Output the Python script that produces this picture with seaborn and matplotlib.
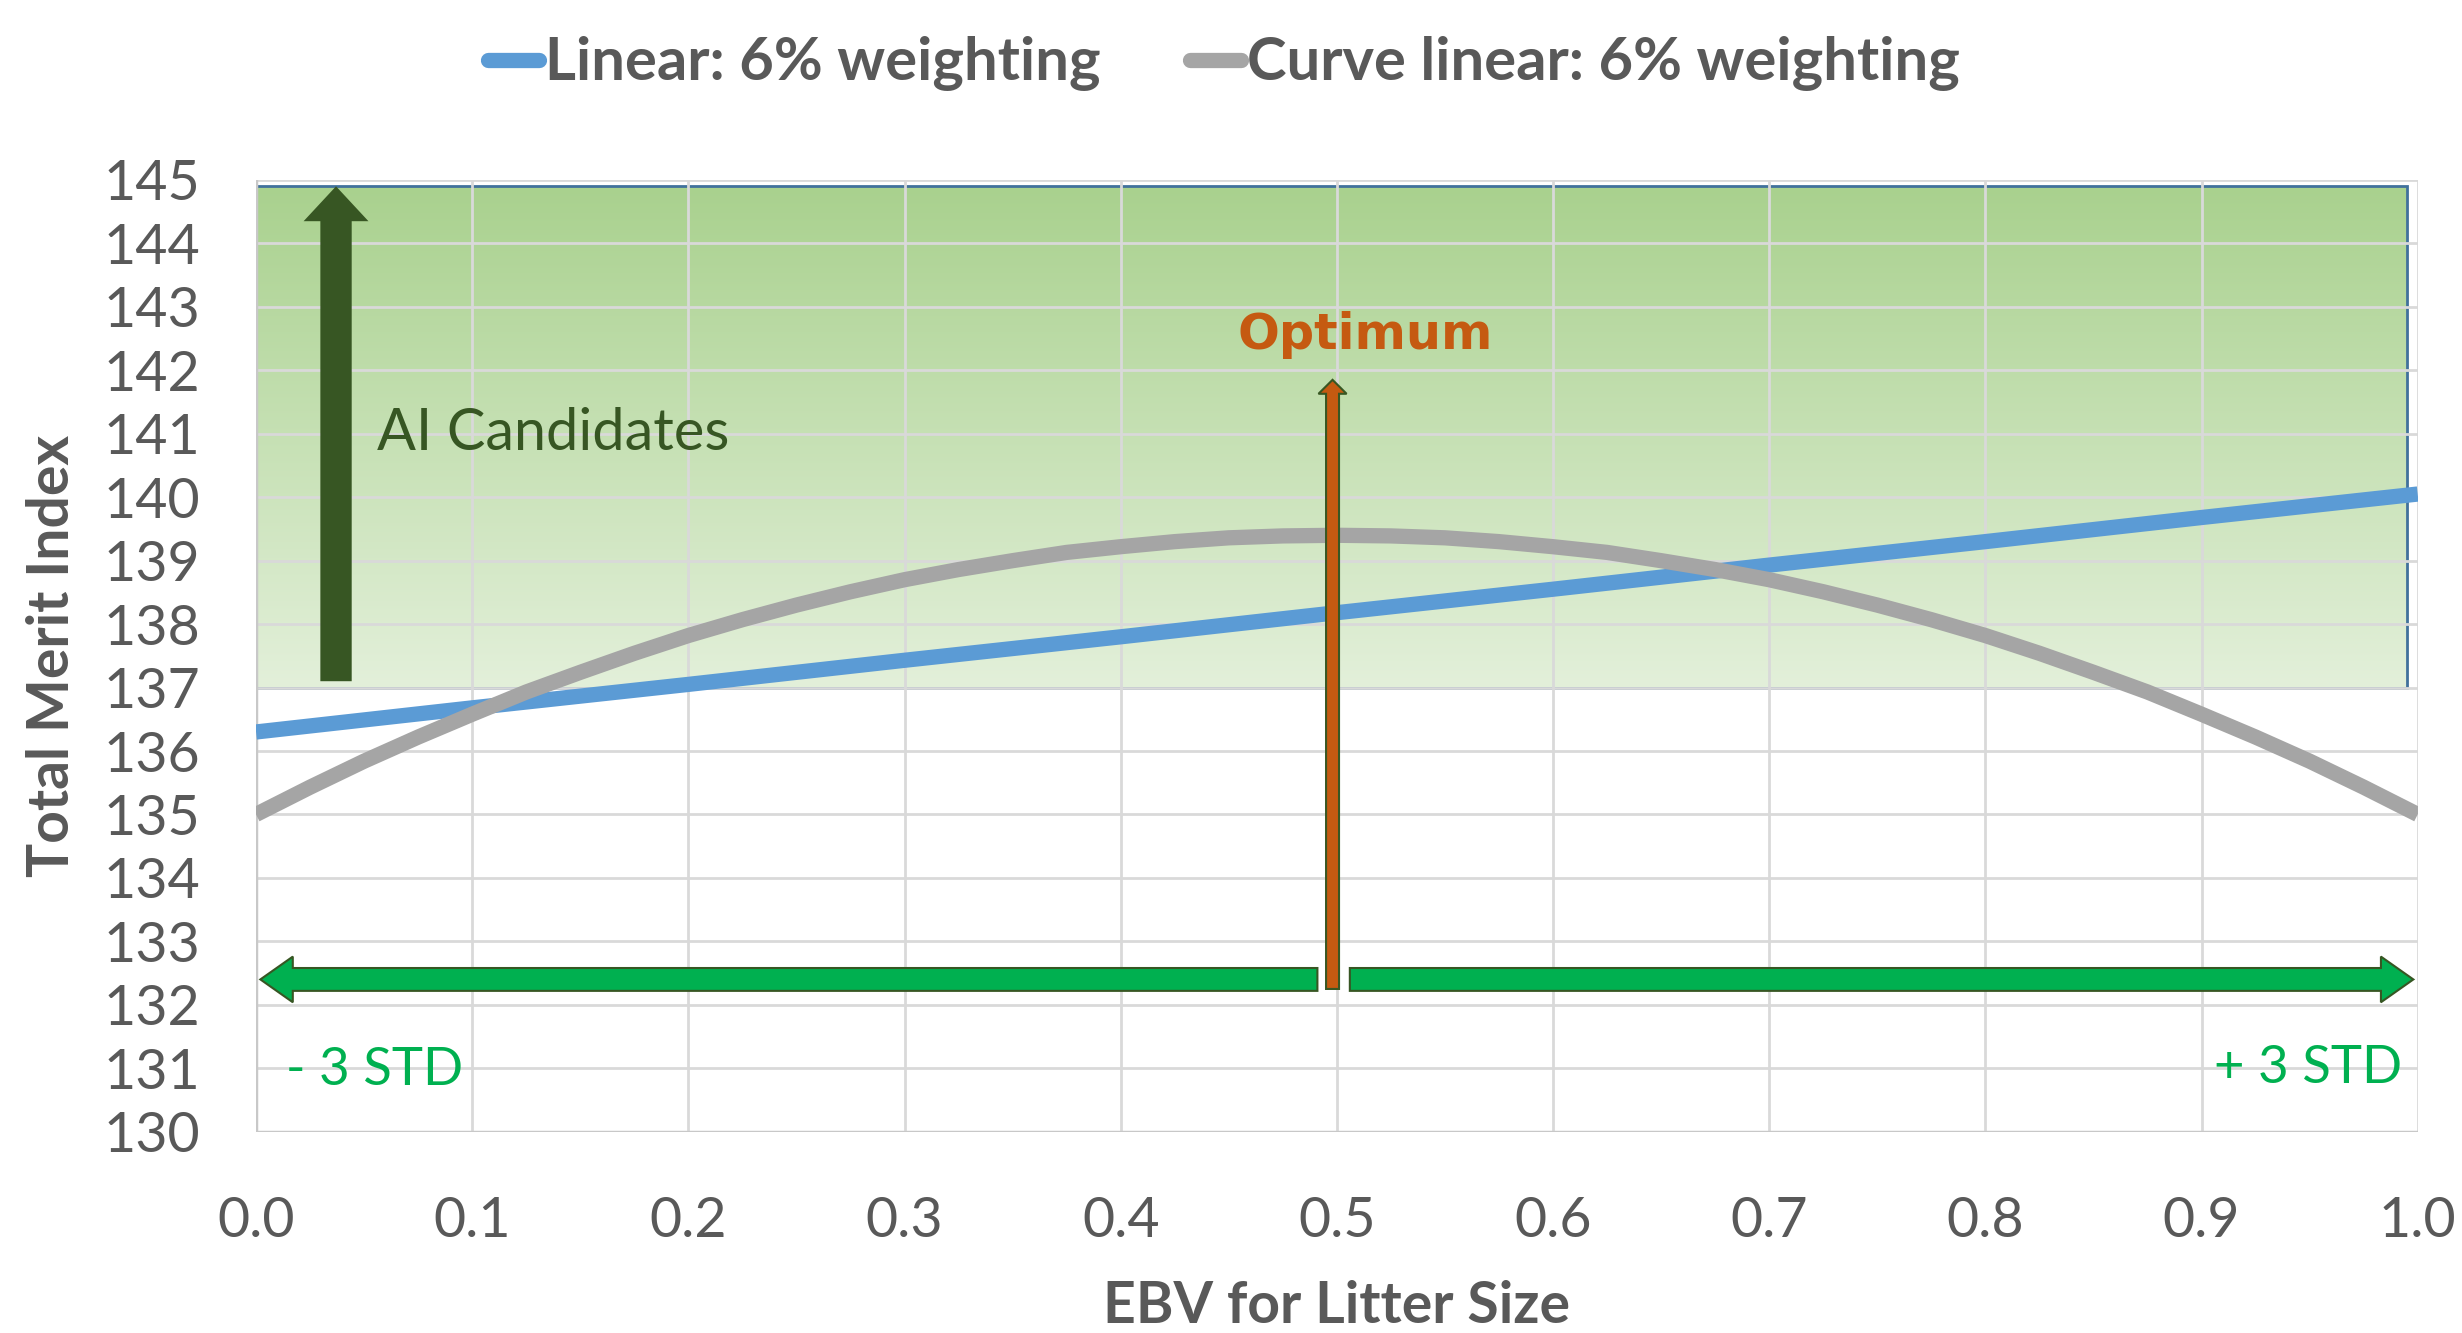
import numpy as np
import pandas as pd
import matplotlib
matplotlib.use("Agg")
import matplotlib.pyplot as plt
from matplotlib.lines import Line2D
from matplotlib.patches import FancyArrow, Rectangle
import seaborn as sns

# values
ebv_linear = [0.0, 0.1, 0.2, 0.3, 0.4, 0.5, 0.6, 0.7, 0.8, 0.9, 1.0]
tmi_linear = [136.30, 136.68, 137.05, 137.43, 137.80, 138.18, 138.55, 138.93, 139.30, 139.68, 140.05]

ebv_curve = [0.0, 0.025, 0.05, 0.075, 0.1, 0.125, 0.15, 0.175, 0.2, 0.225, 0.25,
             0.275, 0.3, 0.325, 0.35, 0.375, 0.4, 0.425, 0.45, 0.475, 0.5,
             0.525, 0.55, 0.575, 0.6, 0.625, 0.65, 0.675, 0.7, 0.725, 0.75,
             0.775, 0.8, 0.825, 0.85, 0.875, 0.9, 0.925, 0.95, 0.975, 1.0]
tmi_curve = [135.00, 135.43, 135.84, 136.22, 136.58, 136.93, 137.24, 137.54, 137.82, 138.07, 138.30,
             138.51, 138.70, 138.86, 139.00, 139.13, 139.22, 139.30, 139.36, 139.39, 139.40,
             139.39, 139.36, 139.30, 139.22, 139.13, 139.00, 138.86, 138.70, 138.51, 138.30,
             138.07, 137.82, 137.54, 137.24, 136.93, 136.58, 136.22, 135.84, 135.43, 135.00]

series_names = ["Linear: 6% weighting", "Curve linear: 6% weighting"]
series_colors = ["#5B9BD5", "#A5A5A5"]

x_ticks = [0.0, 0.1, 0.2, 0.3, 0.4, 0.5, 0.6, 0.7, 0.8, 0.9, 1.0]
y_ticks = list(range(130, 146))

# candidate band
band_bottom, band_top, band_right = 137.0, 144.9, 0.995

df = pd.concat([
    pd.DataFrame({"ebv": ebv_linear, "tmi": tmi_linear, "series": series_names[0]}),
    pd.DataFrame({"ebv": ebv_curve, "tmi": tmi_curve, "series": series_names[1]}),
])

sns.set_theme(style="white")
plt.rcParams["font.family"] = ["Lato", "DejaVu Sans"]

fig = plt.figure(figsize=(24.62, 13.33), dpi=100)
ax = fig.add_axes([0.104, 0.151, 0.878, 0.714])

# gradient band
grad = np.linspace(0, 1, 256).reshape(-1, 1)
top_c = np.array([169, 209, 142]) / 255
bot_c = np.array([227, 240, 218]) / 255
img = top_c[None, None, :] * (1 - grad[:, :, None]) + bot_c[None, None, :] * grad[:, :, None]
ax.imshow(img, extent=[0, band_right, band_bottom, band_top], aspect="auto",
          origin="upper", zorder=0.2, interpolation="bilinear")
ax.add_patch(Rectangle((0, band_bottom), band_right, band_top - band_bottom,
                       fill=False, edgecolor="#41719C", lw=2, zorder=0.3))

sns.lineplot(data=df, x="ebv", y="tmi", hue="series", palette=series_colors,
             hue_order=series_names, ax=ax, lw=11, legend=False, zorder=3)
for ln in ax.get_lines():
    ln.set_solid_capstyle("butt")
    ln.set_solid_joinstyle("round")

ax.set_xlim(0, 1)
ax.set_ylim(130, 145)
ax.set_xticks(x_ticks)
ax.set_xticklabels([f"{v:.1f}" for v in x_ticks])
ax.set_yticks(y_ticks)
ax.set_axisbelow(True)
ax.grid(True, color="#D9D9D9", lw=2)
for s in ax.spines.values():
    s.set_visible(False)
ax.axvline(0, color="#C8C8C8", lw=2.5, zorder=0.6)
ax.axhline(130, color="#C8C8C8", lw=2.5, zorder=0.6)
ax.tick_params(axis="both", length=0, labelsize=40, labelcolor="#595959")
ax.tick_params(axis="y", pad=40)
ax.tick_params(axis="x", pad=46)

ax.set_xlabel("EBV for Litter Size", fontsize=41, fontweight="bold", color="#595959", labelpad=24)
ax.set_ylabel("Total Merit Index", fontsize=41, fontweight="bold", color="#595959", labelpad=18)

# AI candidates arrow
ax.add_patch(FancyArrow(0.037, 137.1, 0, 7.8, width=0.0145, head_width=0.03,
                        head_length=0.55, length_includes_head=True,
                        facecolor="#375623", edgecolor="#375623", lw=0, zorder=4))
ax.text(0.056, 141.0, "AI Candidates", fontsize=41.5, color="#375623", va="center", ha="left", zorder=5)

# optimum arrow
ax.add_patch(FancyArrow(0.498, 132.25, 0, 9.6, width=0.006, head_width=0.013,
                        head_length=0.22, length_includes_head=True,
                        facecolor="#C55A11", edgecolor="#385723", lw=1.5, zorder=4))
ax.text(0.513, 142.55, "Optimum", fontsize=35.5, fontweight="bold", color="#C55A11",
        family="DejaVu Sans", ha="center", va="center", zorder=5)

# +/- 3 STD arrows
ax.add_patch(FancyArrow(0.491, 132.4, -0.489, 0, width=0.36, head_width=0.72,
                        head_length=0.015, length_includes_head=True,
                        facecolor="#00B050", edgecolor="#375623", lw=1.5, zorder=4))
ax.add_patch(FancyArrow(0.506, 132.4, 0.492, 0, width=0.36, head_width=0.72,
                        head_length=0.015, length_includes_head=True,
                        facecolor="#00B050", edgecolor="#375623", lw=1.5, zorder=4))
ax.text(0.014, 130.97, "- 3 STD", fontsize=38, color="#00B050", ha="left", va="center", zorder=5)
ax.text(0.993, 131.0, "+ 3 STD", fontsize=38, color="#00B050", ha="right", va="center", zorder=5)

handles = [Line2D([0], [0], color=c, lw=11, solid_capstyle="round") for c in series_colors]
leg = fig.legend(handles, series_names, loc="center", bbox_to_anchor=(0.497, 0.952), ncol=2,
                 frameon=False, fontsize=43, handlelength=0.85, handletextpad=0.1,
                 columnspacing=1.5)
for t in leg.get_texts():
    t.set_color("#595959")
    t.set_fontweight("bold")

fig.savefig("out.png", dpi=100)
